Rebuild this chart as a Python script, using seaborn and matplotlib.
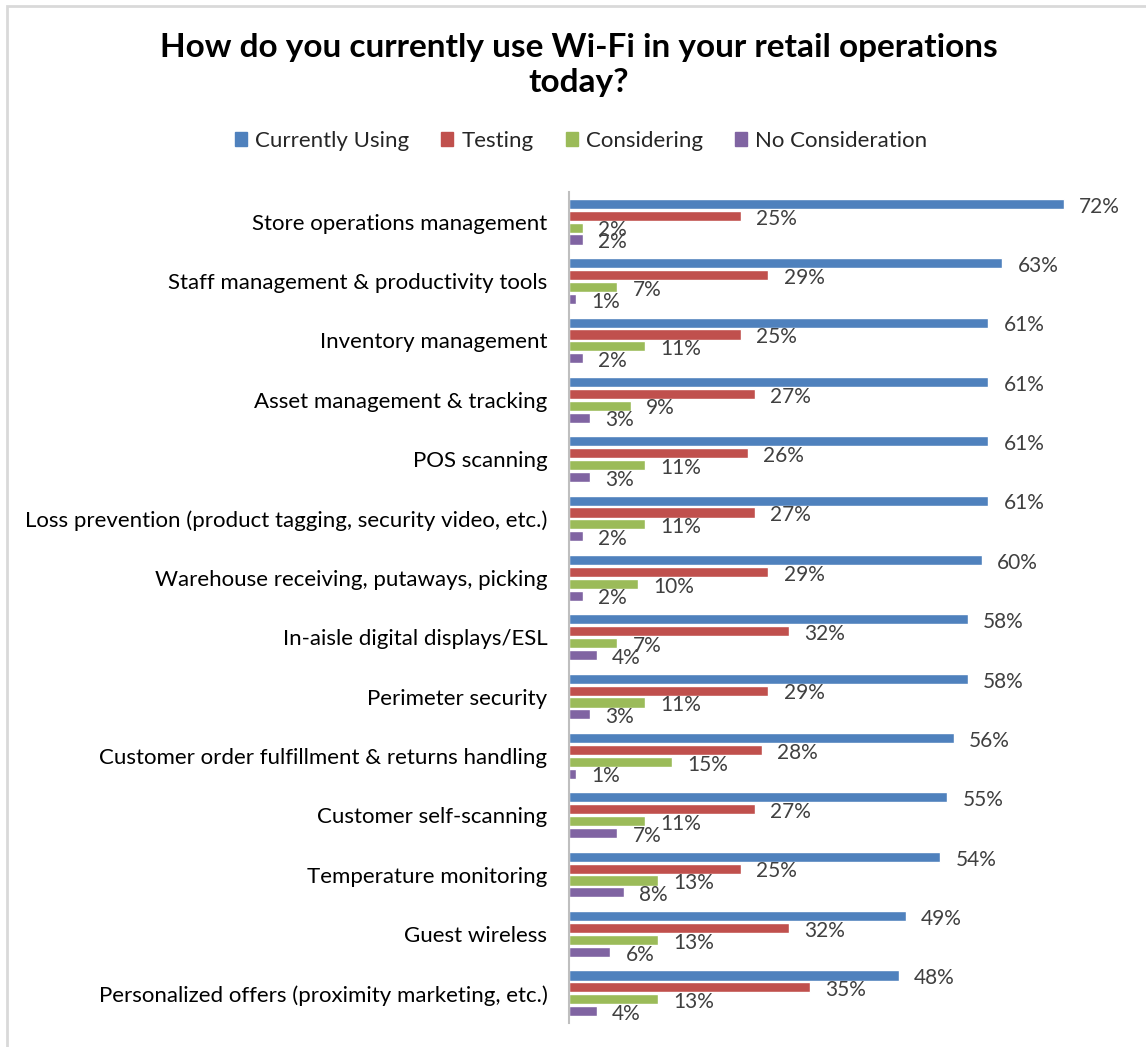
import matplotlib
matplotlib.use("Agg")
import matplotlib.pyplot as plt
import matplotlib.patches as mpatches
import seaborn as sns
import pandas as pd

categories = [
    "Store operations management",
    "Staff management & productivity tools",
    "Inventory management",
    "Asset management & tracking",
    "POS scanning",
    "Loss prevention (product tagging, security video, etc.)",
    "Warehouse receiving, putaways, picking",
    "In-aisle digital displays/ESL",
    "Perimeter security",
    "Customer order fulfillment & returns handling",
    "Customer self-scanning",
    "Temperature monitoring",
    "Guest wireless",
    "Personalized offers (proximity marketing, etc.)",
]
series = ["Currently Using", "Testing", "Considering", "No Consideration"]
currently_using = [72, 63, 61, 61, 61, 61, 60, 58, 58, 56, 55, 54, 49, 48]
testing = [25, 29, 25, 27, 26, 27, 29, 32, 29, 28, 27, 25, 32, 35]
considering = [2, 7, 11, 9, 11, 11, 10, 7, 11, 15, 11, 13, 13, 13]
no_consideration = [2, 1, 2, 3, 3, 2, 2, 4, 3, 1, 7, 8, 6, 4]
colors = ["#4F81BD", "#C0504D", "#9BBB59", "#8064A2"]
title = "How do you currently use Wi-Fi in your retail operations\ntoday?"

values = [currently_using, testing, considering, no_consideration]
df = pd.DataFrame(
    [(c, s, v) for s, vals in zip(series, values) for c, v in zip(categories, vals)],
    columns=["Use", "Status", "Share"],
)

sns.set_theme(style="white")
plt.rcParams["font.family"] = ["Lato", "DejaVu Sans"]

W, H, DPI = 1146, 1047, 100
fig = plt.figure(figsize=(W / DPI, H / DPI), dpi=DPI)
ax = fig.add_axes([569 / W, 1 - 1023 / H, (W - 569) / W, (1023 - 192) / H])

sns.barplot(
    data=df, y="Use", x="Share", hue="Status", order=categories,
    hue_order=series, palette=colors, orient="h", width=0.8, gap=0.15,
    saturation=1, legend=False, ax=ax,
)

ax.set_xlim(0, (W - 569) / 6.875)
ax.set_ylim(len(categories) - 0.5, -0.5)
ax.set_xlabel("")
ax.set_ylabel("")
ax.set_xticks([])
ax.tick_params(axis="y", length=0, pad=15.5, labelsize=16, labelcolor="#000000")
for side in ["top", "right", "bottom"]:
    ax.spines[side].set_visible(False)
ax.spines["left"].set_color("#BFBFBF")
ax.spines["left"].set_linewidth(1.5)

# value labels at the end of every bar
for container, vals in zip(ax.containers, values):
    for patch, v in zip(container.patches, vals):
        ax.annotate(
            f"{v}%",
            xy=(patch.get_width(), patch.get_y() + patch.get_height() / 2),
            xytext=(11, -2), textcoords="offset points",
            ha="left", va="center", fontsize=15, color="#404040",
            annotation_clip=False,
        )

fig.text(0.505, 1 - 65 / H, title, ha="center", va="center",
         fontsize=24, fontweight="bold", color="#000000", linespacing=1.25)

handles = [mpatches.Patch(color=c, label=s) for c, s in zip(colors, series)]
fig.legend(
    handles=handles, loc="center", bbox_to_anchor=(0.507, 1 - 141 / H),
    ncol=4, frameon=False, fontsize=16, handlelength=0.55, handleheight=0.55,
    handletextpad=0.36, columnspacing=1.45,
)

# outer chart frame
fig.patches.append(mpatches.Rectangle(
    (7 / W, -0.1), 1.2, 1 - 6 / H + 0.1, transform=fig.transFigure,
    fill=False, edgecolor="#D9D9D9", linewidth=2,
))

fig.savefig("out.png", dpi=DPI)
